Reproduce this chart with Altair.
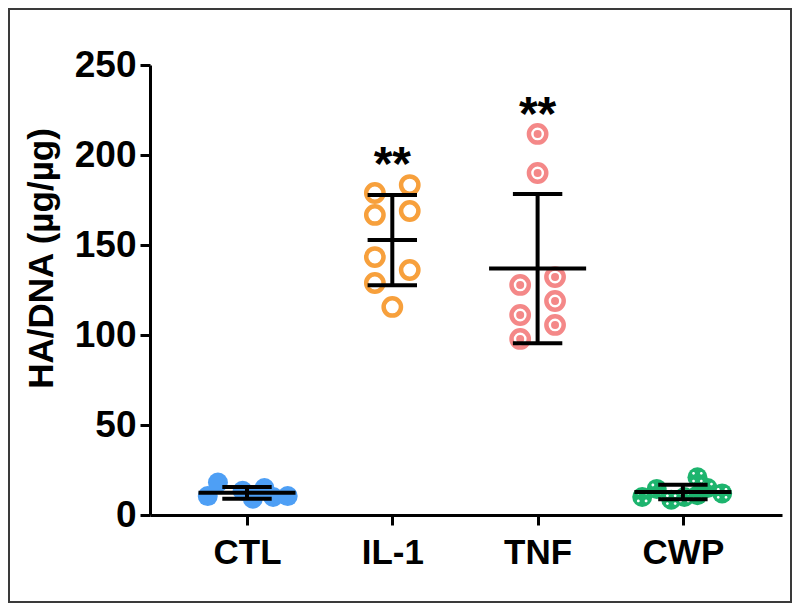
import json
import altair as alt
import pandas as pd

# ---- data ----
groups = ["CTL", "IL-1", "TNF", "CWP"]

ctl_vals = [10.5, 18.0, 13.5, 9.0, 15.0, 10.0, 10.5]
ctl_offs = [-0.27, -0.20, -0.03, 0.04, 0.12, 0.18, 0.28]

il1_vals = [178.9, 183.3, 166.7, 168.9, 143.3, 136.1, 128.9, 115.6]
il1_offs = [-0.12, 0.12, -0.12, 0.12, -0.12, 0.12, -0.12, 0.0]

tnf_vals = [211.7, 190.0, 127.8, 132.2, 118.9, 111.1, 105.6, 97.8]
tnf_offs = [0.0, 0.0, -0.12, 0.12, 0.12, -0.12, 0.12, -0.12]

cwp_vals = [10.0, 14.5, 8.5, 21.0, 11.0, 15.0, 12.0, 10.0]
cwp_offs = [-0.28, -0.18, -0.08, 0.10, 0.10, 0.17, 0.27, 0.01]

star_labels = ["**", "**"]
star_groups = [1, 2]
star_y = [186, 214]

y_ticks = [0, 50, 100, 150, 200, 250]
y_title = "HA/DNA (µg/µg)"

# ---- tables ----
rows = []
for gi, (vals, offs) in enumerate([(ctl_vals, ctl_offs), (il1_vals, il1_offs),
                                   (tnf_vals, tnf_offs), (cwp_vals, cwp_offs)]):
    for v, o in zip(vals, offs):
        rows.append({"group": groups[gi], "gi": gi, "xpos": gi + o, "value": v})
df = pd.DataFrame(rows)
stars = pd.DataFrame({"label": star_labels, "gi": star_groups, "y": star_y})

label_expr = json.dumps(groups) + "[datum.value]"
xscale = alt.Scale(domain=[-0.6676, 3.682], nice=False, zero=False)
xaxis = alt.Axis(values=[0, 1, 2, 3], labelExpr=label_expr, title=None,
                 labelPadding=10)
yscale = alt.Scale(domain=[0, 250], nice=False)
yaxis = alt.Axis(values=y_ticks, title=y_title, titleX=-98, titleY=193,
                 titleBaseline="alphabetic", labelPadding=4, labelFontSize=37)


def X(field):
    return alt.X(field, scale=xscale, axis=xaxis)


def Y(field):
    return alt.Y(field, scale=yscale, axis=yaxis)


pts = alt.Chart(df)

ctl = pts.transform_filter("datum.gi == 0").mark_point(
    shape="circle", filled=True, size=400, color="#4e9ff5", opacity=1
).encode(x=X("xpos:Q"), y=Y("value:Q"))

il1 = pts.transform_filter("datum.gi == 1").mark_point(
    shape="circle", filled=False, size=300, color="#f7a03c", strokeWidth=4.5, opacity=1
).encode(x=X("xpos:Q"), y=Y("value:Q"))

tnf_ring = pts.transform_filter("datum.gi == 2").mark_point(
    shape="circle", filled=True, size=300, fill="white", stroke="#f48888",
    strokeWidth=4.5, opacity=1
).encode(x=X("xpos:Q"), y=Y("value:Q"))
tnf_dot = pts.transform_filter("datum.gi == 2").mark_point(
    shape="circle", filled=True, size=64, color="#f48888", opacity=1
).encode(x=X("xpos:Q"), y=Y("value:Q"))


def dot(cx, cy, r):
    return (f"M{cx - r},{cy}A{r},{r},0,1,0,{cx + r},{cy}"
            f"A{r},{r},0,1,0,{cx - r},{cy}Z")


dots_path = "".join(dot(cx, cy, 0.2) for cx, cy in
                    [(-0.55, -0.55), (0.55, -0.55), (-0.55, 0.55), (0.55, 0.55)])

cwp = pts.transform_filter("datum.gi == 3").mark_point(
    shape="circle", filled=True, size=400, color="#1db46e", opacity=1
).encode(x=X("xpos:Q"), y=Y("value:Q"))
cwp_dots = pts.transform_filter("datum.gi == 3").mark_point(
    shape=dots_path, filled=True, size=200, color="white", opacity=1
).encode(x=X("xpos:Q"), y=Y("value:Q"))

stats = alt.Chart(df).transform_aggregate(
    mean="mean(value)", sd="stdev(value)", groupby=["gi"]
).transform_calculate(
    lo="datum.mean - datum.sd",
    hi="datum.mean + datum.sd",
    cl="datum.gi - 0.17",
    cr="datum.gi + 0.17",
    ml="datum.gi - (datum.gi == 1 ? 0.17 : 0.334)",
    mr="datum.gi + (datum.gi == 1 ? 0.17 : 0.334)",
)
rule_style = dict(color="black", strokeWidth=4)
mean_line = stats.mark_rule(**rule_style).encode(x=X("ml:Q"), x2="mr:Q", y=Y("mean:Q"))
vline = stats.mark_rule(**rule_style).encode(x=X("gi:Q"), y=Y("lo:Q"), y2="hi:Q")
cap_hi = stats.mark_rule(**rule_style).encode(x=X("cl:Q"), x2="cr:Q", y=Y("hi:Q"))
cap_lo = stats.mark_rule(**rule_style).encode(x=X("cl:Q"), x2="cr:Q", y=Y("lo:Q"))

star_text = alt.Chart(stars).mark_text(
    fontSize=48, fontWeight="bold", font="Liberation Sans", baseline="alphabetic",
    align="center", color="black"
).encode(x=X("gi:Q"), y=Y("y:Q"), text="label:N")

frame = alt.Chart(stars).mark_rect(filled=False, stroke="#3a3a3a", strokeWidth=2).encode(
    x=alt.value(-141), x2=alt.value(641), y=alt.value(-56), y2=alt.value(537)
)

chart = alt.layer(
    ctl, il1, tnf_ring, tnf_dot, cwp, cwp_dots,
    mean_line, vline, cap_hi, cap_lo, star_text, frame
).properties(
    width=632, height=450,
    autosize=alt.AutoSizeParams(type="none"),
    padding={"left": 142, "top": 57, "right": 10, "bottom": 88},
).configure_view(stroke=None).configure_axis(
    domainColor="black", domainWidth=3, tickColor="black", tickWidth=3,
    tickSize=10, grid=False,
    labelFont="Liberation Sans", labelFontWeight="bold", labelFontSize=35,
    labelColor="black",
    titleFont="Liberation Sans", titleFontWeight="bold", titleFontSize=35,
    titleColor="black",
)

chart.save("out.html", embed_options={"renderer": "svg", "actions": False})
